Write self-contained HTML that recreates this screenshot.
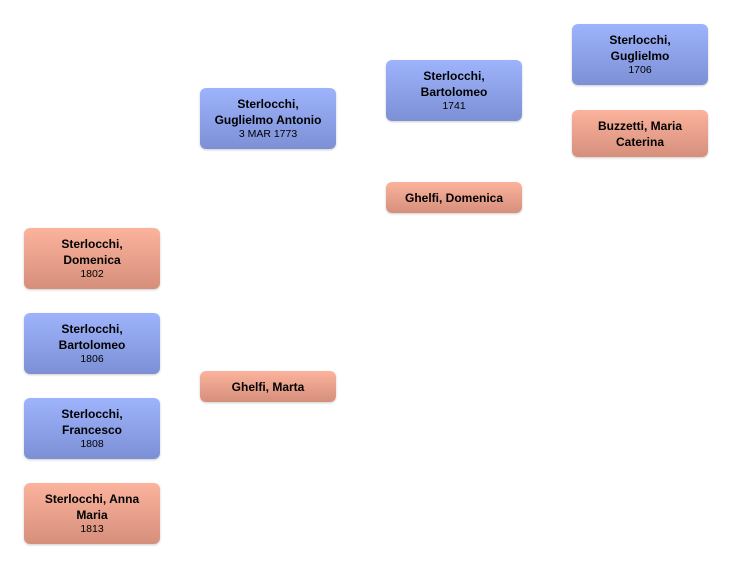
<!DOCTYPE html>
<html><head><style>
body{margin:0;width:732px;height:568px;background:#fff;position:relative;font-family:"Liberation Sans",sans-serif;overflow:hidden}
.b{position:absolute;width:136px;border-radius:6px;box-sizing:border-box;text-align:center;color:#000;box-shadow:0 1px 2px rgba(0,0,0,.2);display:flex;flex-direction:column;justify-content:center}
.m{background:linear-gradient(#9db3fb,#7d90d6)}
.f{background:linear-gradient(#fbb39d,#d68f7b)}
.n{font-weight:bold;font-size:12px;line-height:16px}
.d{font-size:10.5px;line-height:13px}
</style></head><body>
<div class="b m" style="left:572px;top:24px;height:61px"><div class="n">Sterlocchi,<br>Guglielmo</div><div class="d">1706</div></div>
<div class="b f" style="left:572px;top:110px;height:47px"><div class="n">Buzzetti, Maria<br>Caterina</div></div>
<div class="b m" style="left:386px;top:60px;height:61px"><div class="n">Sterlocchi,<br>Bartolomeo</div><div class="d">1741</div></div>
<div class="b f" style="left:386px;top:182px;height:31px"><div class="n">Ghelfi, Domenica</div></div>
<div class="b m" style="left:200px;top:88px;height:61px"><div class="n">Sterlocchi,<br>Guglielmo Antonio</div><div class="d">3 MAR 1773</div></div>
<div class="b f" style="left:200px;top:371px;height:31px"><div class="n">Ghelfi, Marta</div></div>
<div class="b f" style="left:24px;top:228px;height:61px"><div class="n">Sterlocchi,<br>Domenica</div><div class="d">1802</div></div>
<div class="b m" style="left:24px;top:313px;height:61px"><div class="n">Sterlocchi,<br>Bartolomeo</div><div class="d">1806</div></div>
<div class="b m" style="left:24px;top:398px;height:61px"><div class="n">Sterlocchi,<br>Francesco</div><div class="d">1808</div></div>
<div class="b f" style="left:24px;top:483px;height:61px"><div class="n">Sterlocchi, Anna<br>Maria</div><div class="d">1813</div></div>
</body></html>
